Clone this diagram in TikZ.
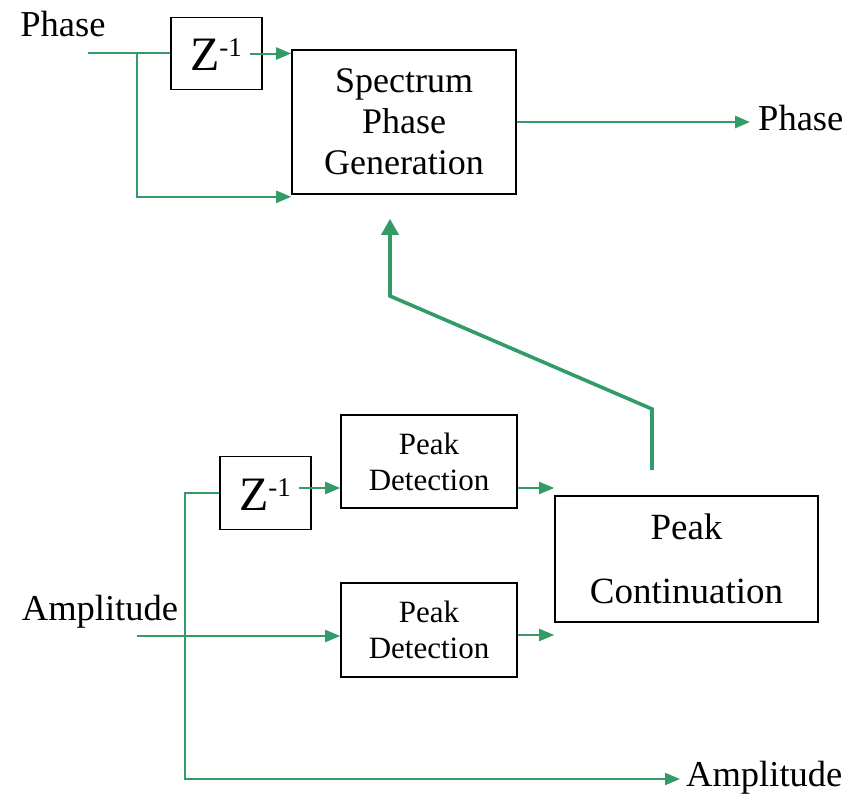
\documentclass[tikz,border=0pt]{standalone}
\usepackage{fontspec}
\setmainfont{Liberation Serif}
\usetikzlibrary{arrows.meta}
\definecolor{lg}{RGB}{50,155,104}
\tikzset{
  blk/.style={draw=black, line width=1.6pt, rectangle, inner sep=0pt, align=center},
  wire/.style={draw=lg, line width=2pt},
  arr/.style={wire, -{Triangle[length=15pt,width=12pt]}},
  bigarr/.style={draw=lg, line width=3.6pt, line join=miter, -{Triangle[length=16pt,width=17pt]}},
  lbl/.style={inner sep=0pt, font=\fontsize{36.5}{40}\selectfont}
}
\newcommand{\zinv}{{\fontsize{48}{48}\selectfont Z}\raisebox{14pt}{\fontsize{27}{27}\selectfont -1}}
\begin{document}
\begin{tikzpicture}[x=1pt,y=-1pt]
\useasboundingbox (0,0) rectangle (859,796);
% blocks
\node[blk, minimum width=91pt, minimum height=72pt] (Z1) at (216.5,53.5) {};
\node at (216,55) {\zinv};
\node[blk, minimum width=224pt, minimum height=144pt, font=\fontsize{36}{41}\selectfont] (SPG) at (404,122) {Spectrum\\Phase\\Generation};
\node[blk, minimum width=176pt, minimum height=93pt, font=\fontsize{31}{36}\selectfont] (PD1) at (429,461.5) {Peak\\Detection};
\node[blk, minimum width=91pt, minimum height=73pt] (Z2) at (265.5,493) {};
\node at (265,495) {\zinv};
\node[blk, minimum width=176pt, minimum height=94pt, font=\fontsize{31}{36}\selectfont] (PD2) at (429,630) {Peak\\Detection};
\node[blk, minimum width=263pt, minimum height=126pt, font=\fontsize{37}{64}\selectfont] (PC) at (686.5,559) {Peak\\Continuation};
% labels
\node[lbl] (phin) at (63,24) {Phase};
\node[lbl, anchor=west] (phout) at (758,118) {Phase};
\node[lbl] (ampin) at (100,612) {Amplitude};
\node[lbl, anchor=west] (ampout) at (686,778) {Amplitude};
% coordinates
\coordinate (pin) at (88,53);
\coordinate (pb) at (137,53);
\coordinate (ain) at (137,636);
\coordinate (vb) at (185,779);
\coordinate (k1) at (652,409);
\coordinate (k2) at (390,296);
% phase connectors
\draw[wire] (pin) -- (pin -| Z1.west);
\draw[arr] (pb) |- ([yshift=-2pt]SPG.south west);
\draw[arr] ([xshift=-13pt]Z1.east) -- (Z1.east -| SPG.west);
\draw[arr, line width=2.8pt] (SPG.east) -- ([xshift=-8pt]phout.west |- SPG.east);
% feedback
\draw[bigarr] ([xshift=-34.5pt,yshift=25pt]PC.north) -- (k1) -- (k2) -- ([xshift=-14pt,yshift=-24pt]SPG.south);
% amplitude connectors
\draw[arr] (Z2.west) -| (vb) -- ([xshift=-6pt]ampout.west |- vb);
\draw[arr] (ain) -- (ain -| PD2.west);
\draw[arr] ([xshift=-13pt,yshift=5pt]Z2.east) -- ([yshift=5pt]Z2.east -| PD1.west);
\draw[arr] ([yshift=-26.5pt]PD1.east) -- ([yshift=-26.5pt]PD1.east -| PC.west);
\draw[arr] ([yshift=-5pt]PD2.east) -- ([yshift=-5pt]PD2.east -| PC.west);
\end{tikzpicture}
\end{document}
